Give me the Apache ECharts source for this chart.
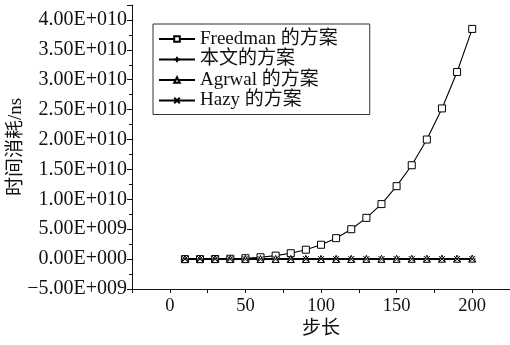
<!DOCTYPE html>
<html>
<head>
<meta charset="utf-8">
<script src="https://cdn.jsdelivr.net/npm/echarts@6/dist/echarts.min.js"></script>
<style>
  html, body { margin: 0; padding: 0; background: #fff; }
  #main { width: 510px; height: 345px; }
</style>
</head>
<body>
<div id="main"></div>
<script>
// step sizes on the x axis
var steps = [10, 20, 30, 40, 50, 60, 70, 80, 90, 100, 110, 120, 130, 140, 150, 160, 170, 180, 190, 200];

// time cost in ns
var freedman = [2.4e5, 3.8e6, 1.9e7, 6.1e7, 1.5e8, 3.1e8, 5.8e8, 9.8e8, 1.57e9, 2.4e9,
                3.5e9, 5.0e9, 6.9e9, 9.2e9, 1.22e10, 1.57e10, 2.0e10, 2.52e10, 3.13e10, 3.85e10];
var benwen   = [1.0e5, 2.0e5, 3.0e5, 4.0e5, 5.0e5, 6.0e5, 7.0e5, 8.0e5, 9.0e5, 1.0e6,
                1.1e6, 1.2e6, 1.3e6, 1.4e6, 1.5e6, 1.6e6, 1.7e6, 1.8e6, 1.9e6, 2.0e6];
var agrwal   = [2.0e5, 8.0e5, 1.8e6, 3.2e6, 5.0e6, 7.2e6, 9.8e6, 1.3e7, 1.6e7, 2.0e7,
                2.4e7, 2.9e7, 3.4e7, 3.9e7, 4.5e7, 5.1e7, 5.8e7, 6.5e7, 7.2e7, 8.0e7];
var hazy     = [3.0e5, 6.0e5, 9.0e5, 1.2e6, 1.5e6, 1.8e6, 2.1e6, 2.4e6, 2.7e6, 3.0e6,
                3.3e6, 3.6e6, 3.9e6, 4.2e6, 4.5e6, 4.8e6, 5.1e6, 5.4e6, 5.7e6, 6.0e6];

var names = ['Freedman 的方案', '本文的方案', 'Agrwal 的方案', 'Hazy 的方案'];
var xTickLabels = [0, 50, 100, 150, 200];

var font = "'Liberation Serif', 'Noto Sans CJK SC', serif";

function sci(v) {
    if (v === 0) return '0.00E+000';
    var neg = v < 0;
    var a = Math.abs(v);
    var e = Math.floor(Math.log10(a));
    var m = a / Math.pow(10, e);
    if (m >= 9.995) { m = m / 10; e += 1; }
    var es = String(e);
    while (es.length < 3) es = '0' + es;
    return (neg ? '\u2212' : '') + m.toFixed(2) + 'E+' + es;
}

function pairs(ys) {
    return steps.map(function (x, i) { return [x, ys[i]]; });
}

function mkSeries(name, ys, symbol, size, lw) {
    return {
        name: name,
        type: 'line',
        data: pairs(ys),
        symbol: symbol,
        symbolSize: size,
        showAllSymbol: true,
        lineStyle: { color: '#000', width: lw },
        itemStyle: { color: '#fff', borderColor: '#000', borderWidth: 1 },
        emphasis: { disabled: true },
        animation: false
    };
}

var chart = echarts.init(document.getElementById('main'));
var option = {
    animation: false,
    textStyle: { fontFamily: font, color: '#111' },
    grid: { left: 132, right: 0, top: 5, bottom: 56, outerBoundsMode: 'none', containLabel: false },
    legend: {
        orient: 'vertical',
        left: 153,
        top: 24,
        padding: [5, 32, 4, 5],
        itemGap: 0.5,
        itemWidth: 36,
        itemHeight: 7,
        borderColor: '#333',
        borderWidth: 1,
        data: names,
        textStyle: { fontFamily: font, fontSize: 19, lineHeight: 20, color: '#111' }
    },
    xAxis: {
        type: 'value',
        min: -25,
        max: 225,
        interval: 25,
        name: '步长',
        nameLocation: 'middle',
        nameGap: 31,
        nameMoveOverlap: false,
        nameTextStyle: { fontFamily: font, fontSize: 19, color: '#111' },
        axisLine: { onZero: false, lineStyle: { color: '#111', width: 1 } },
        axisTick: { show: true, length: 4, lineStyle: { color: '#111' } },
        splitLine: { show: false },
        axisLabel: {
            fontFamily: font, fontSize: 18.5, color: '#111', margin: 8,
            formatter: function (v) {
                return xTickLabels.indexOf(v) >= 0 ? String(v) : '';
            }
        }
    },
    yAxis: {
        type: 'value',
        min: -5e9,
        max: 4.25e10,
        interval: 5e9,
        name: '时间消耗/ns',
        nameLocation: 'middle',
        nameGap: 106,
        nameMoveOverlap: false,
        nameTextStyle: { fontFamily: font, fontSize: 19, color: '#111' },
        axisLine: { show: true, onZero: false, lineStyle: { color: '#111', width: 1 } },
        axisTick: { show: true, length: 5, lineStyle: { color: '#111' } },
        minorTick: { show: true, splitNumber: 2, length: 3, lineStyle: { color: '#111' } },
        splitLine: { show: false },
        axisLabel: {
            fontFamily: font, fontSize: 20, color: '#111', margin: 5,
            showMaxLabel: false,
            formatter: sci
        }
    },
    series: [
        mkSeries(names[0], freedman, 'rect', 7, 1.1),
        mkSeries(names[1], benwen, 'path://M5,0L5,10M0,5L10,5', 7, 1.5),
        mkSeries(names[2], agrwal, 'triangle', 7, 1.5),
        mkSeries(names[3], hazy, 'path://M0,0L10,10M10,0L0,10', 6, 1.5)
    ]
};
chart.setOption(option);
</script>
</body>
</html>
